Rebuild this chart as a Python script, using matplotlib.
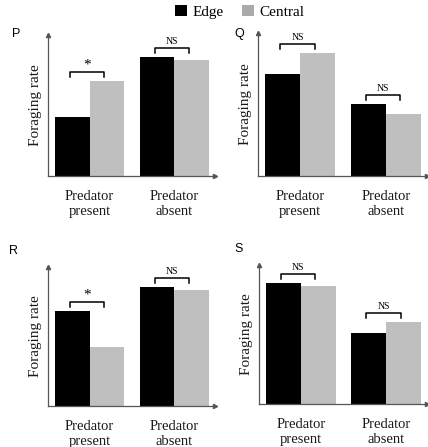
import matplotlib
matplotlib.use("Agg")
import matplotlib.pyplot as plt
from matplotlib.patches import Patch

# ---- data (arbitrary foraging-rate units) ----
panels = ["P", "Q", "R", "S"]
groups = ["Predator\npresent", "Predator\nabsent"]
edge_P = [59, 119]
central_P = [95, 116]
edge_Q = [102, 72]
central_Q = [123, 62]
edge_R = [95, 119]
central_R = [59, 116]
edge_S = [121, 71]
central_S = [118, 82]
sig_P = ["*", "NS"]
sig_Q = ["NS", "NS"]
sig_R = ["*", "NS"]
sig_S = ["NS", "NS"]
ymax = [141, 143, 139, 139]

edges = [edge_P, edge_Q, edge_R, edge_S]
centrals = [central_P, central_Q, central_R, central_S]
sigs = [sig_P, sig_Q, sig_R, sig_S]

W, H = 428, 447
fig = plt.figure(figsize=(W / 100, H / 100), dpi=100)

SERIF = "Liberation Serif"
SANS = "Liberation Sans"
BLACK = "#000000"
GRAY = "#bfbfbf"
AXC = "#555555"
TXT = "#1a1a1a"

# axes boxes in pixels: (left, top, right, bottom)
boxes = [(48, 35, 215, 176), (258, 33, 427, 176),
         (48, 267, 215, 406), (259, 265, 427, 404)]
label_pos = [(16, 34), (239, 34), (14, 251), (239, 249)]

bw = 0.41
for i in range(4):
    l, t, r, b = boxes[i]
    ax = fig.add_axes([l / W, 1 - b / H, (r - l) / W, (b - t) / H])
    xs = [0, 1]
    ax.bar([x - bw / 2 for x in xs], edges[i], width=bw, color=BLACK)
    ax.bar([x + bw / 2 for x in xs], centrals[i], width=bw, color=GRAY)
    ax.set_xlim(-0.49, 1.48)
    ax.set_ylim(0, ymax[i])
    for s in ["top", "right"]:
        ax.spines[s].set_visible(False)
    for s in ["left", "bottom"]:
        ax.spines[s].set_color(AXC)
        ax.spines[s].set_linewidth(0.9)
    ax.set_yticks([])
    ax.set_xticks(xs)
    ax.set_xticklabels(groups, fontfamily=SERIF, fontsize=10.5, linespacing=1.25, color=TXT)
    ax.tick_params(axis="x", length=0, pad=10)
    ax.set_ylabel("Foraging rate", fontfamily=SERIF, fontsize=11, labelpad=4, color=TXT)
    # arrows
    ax.plot(0, 1, marker="^", color=AXC, markersize=3, transform=ax.transAxes, clip_on=False)
    ax.plot(1, 0, marker=">", color=AXC, markersize=3, transform=ax.transAxes, clip_on=False)
    # significance brackets
    for j in xs:
        top = max(edges[i][j], centrals[i][j])
        yb = top + 9
        x0, x1 = j - 0.23, j + 0.17
        ax.plot([x0, x0, x1, x1], [yb - 5, yb, yb, yb - 5], color="black", lw=1.1, clip_on=False)
        if sigs[i][j] == "*":
            ax.text((x0 + x1) / 2, yb + 0.5, "*", ha="center", va="bottom",
                    fontfamily=SERIF, fontsize=11)
        else:
            ax.text((x0 + x1) / 2, yb + 2, "NS", ha="center", va="bottom",
                    fontfamily=SERIF, fontsize=7)
    lx, ly = label_pos[i]
    fig.text(lx / W, 1 - ly / H, panels[i], ha="center", va="center",
             fontfamily=SANS, fontsize=9)

handles = [Patch(facecolor=BLACK, edgecolor="none"), Patch(facecolor="#aaaaaa", edgecolor="none")]
fig.legend(handles, ["Edge", "Central"], loc="center", bbox_to_anchor=(240 / W, 1 - 12 / H),
           ncol=2, frameon=False, prop={"family": SERIF, "size": 11},
           handlelength=0.75, handleheight=0.75, handletextpad=0.4, columnspacing=1.2)

fig.savefig("out.png", dpi=100)
